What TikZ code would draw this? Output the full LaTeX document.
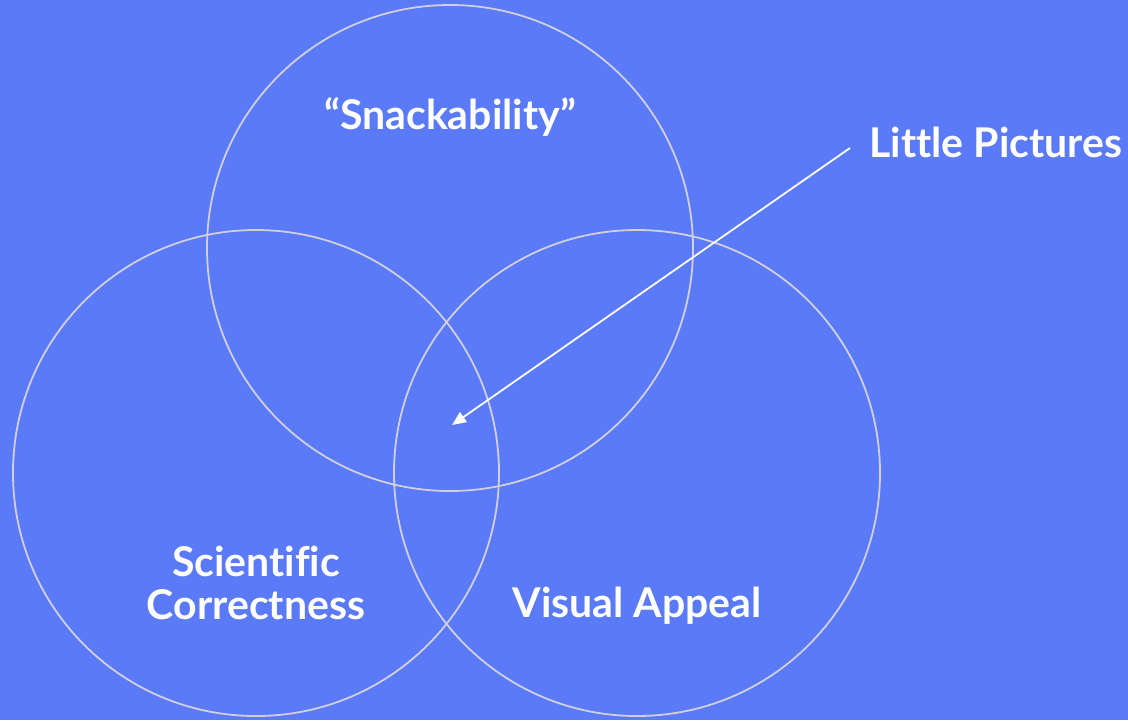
\documentclass[tikz,border=0pt]{standalone}
\usepackage{fontspec}
\setmainfont{Lato}[Ligatures=NoCommon]
\usepackage{xcolor}
\usetikzlibrary{arrows.meta}
\usetikzlibrary{positioning}
\definecolor{bgblue}{HTML}{5A7AF8}
\definecolor{ringgray}{HTML}{CFCFDD}
\tikzset{
  ring/.style    = {draw=ringgray, line width=0.9pt},
  vennlabel/.style = {text=white, font=\bfseries\fontsize{20.5}{21.5}\selectfont, align=center, inner sep=0pt},
  pointer/.style = {draw=white, line width=0.9pt, -{Triangle[length=7pt,width=6pt]}}
}

\begin{document}
\begin{tikzpicture}[x=0.5pt, y=-0.5pt]
  % Background
  \fill[bgblue] (0,0) rectangle (1128,720);
  \useasboundingbox (0,0) rectangle (1128,720);

  % Circle centres
  \coordinate (snack)  at (450,248);
  \coordinate (sci)    at (256,473);
  \coordinate (visual) at (637,473);

  % Circles
  \draw[ring] (snack)  circle[radius=121.5pt];
  \draw[ring] (sci)    circle[radius=121.5pt];
  \draw[ring] (visual) circle[radius=121.5pt];

  % Labels
  \node[vennlabel] (snacklabel)  at (450,117) {“Snackability”};
  \node[vennlabel] (scilabel)    at (256,583) {Scientific\\Correctness};
  \node[vennlabel] (visuallabel) at (637,606) {Visual Appeal};
  \node[vennlabel, anchor=west, inner xsep=9.5pt] (little) at (850,142) {Little Pictures};

  % Arrow
  \coordinate (centre) at (452,425);
  \draw[pointer] ([yshift=-3pt]little.west) -- (centre);
\end{tikzpicture}
\end{document}
